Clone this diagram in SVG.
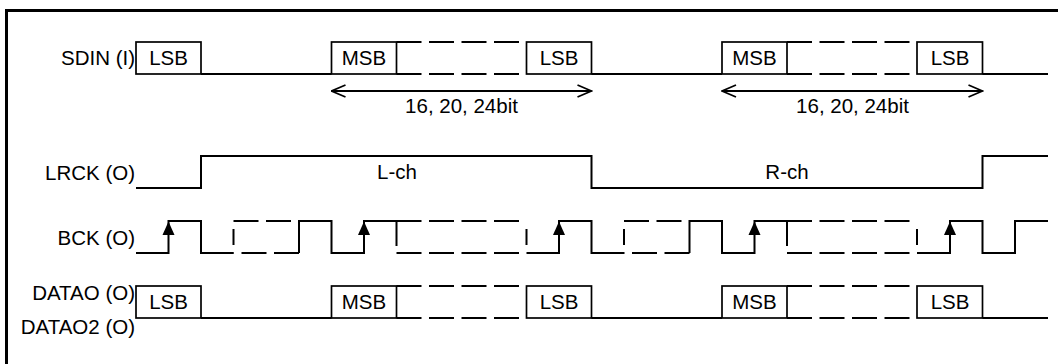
<svg xmlns="http://www.w3.org/2000/svg" width="1058" height="364" viewBox="0 0 1058 364">
<style>
text{font-family:"Liberation Sans",Arial,sans-serif;font-size:20.5px;fill:#000}
.lbl{text-anchor:end}
.mid{text-anchor:middle}
.box{fill:#fff;stroke:#000;stroke-width:1.7}
.sig{fill:none;stroke:#000;stroke-width:2}
.dash{fill:none;stroke:#000;stroke-width:2;stroke-dasharray:25 7.5}
.arr{fill:none;stroke:#000;stroke-width:1.8}
.head{fill:#000;stroke:none}
</style>
<defs>
<marker id="open" viewBox="0 0 16 14" refX="15" refY="7" markerWidth="16" markerHeight="14" markerUnits="userSpaceOnUse" orient="auto-start-reverse">
<path d="M1,1 L15,7 L1,13" fill="none" stroke="#000" stroke-width="1.8"/>
</marker>
</defs>
<rect width="1058" height="364" fill="#fff"/>
<path d="M6.5,364 V10.5 H1058" fill="none" stroke="#000" stroke-width="3"/>

<g id="labels">
<text class="lbl" x="135" y="65">SDIN (I)</text>
<text class="lbl" x="135" y="180">LRCK (O)</text>
<text class="lbl" x="135" y="245">BCK (O)</text>
<text class="lbl" x="135" y="300">DATAO (O)</text>
<text class="lbl" x="135" y="334">DATAO2 (O)</text>
</g>

<g id="sdin">
<path class="sig" d="M201,74 H331.5 M591.5,74 H722 M982.5,74 H1048"/>
<path class="dash" d="M396.5,42 H526.5 M396.5,74 H526.5 M787,42 H917 M787,74 H917"/>
<rect class="box" x="136" y="42" width="65" height="32"/>
<rect class="box" x="331.5" y="42" width="65" height="32"/>
<rect class="box" x="526.5" y="42" width="65" height="32"/>
<rect class="box" x="722" y="42" width="65" height="32"/>
<rect class="box" x="917" y="42" width="65.5" height="32"/>
<text class="mid" x="168.5" y="65">LSB</text>
<text class="mid" x="364" y="65">MSB</text>
<text class="mid" x="559" y="65">LSB</text>
<text class="mid" x="754.5" y="65">MSB</text>
<text class="mid" x="950" y="65">LSB</text>
</g>

<g id="width-arrows">
<line class="arr" x1="331.5" y1="91" x2="591.5" y2="91" marker-start="url(#open)" marker-end="url(#open)"/>
<line class="arr" x1="722" y1="91" x2="982.5" y2="91" marker-start="url(#open)" marker-end="url(#open)"/>
<text class="mid" x="461.5" y="113">16, 20, 24bit</text>
<text class="mid" x="852.5" y="113">16, 20, 24bit</text>
</g>

<g id="lrck">
<path class="sig" d="M136,188 H201 V156 H591.5 V188 H982.5 V156 H1048"/>
<text class="mid" x="397" y="179">L-ch</text>
<text class="mid" x="787" y="179">R-ch</text>
</g>

<g id="bck">
<path class="sig" d="M136,253 H168.5 V221 H201 V253 H233.5 M233.5,229 V245"/>
<path class="dash" d="M233.5,221 H299 M299,253 H233.5"/>
<path class="sig" d="M299,253 V221 H331.5 V253 H364 V221 H396.5 V246"/>
<path class="dash" d="M396.5,221 H526.5 M396.5,253 H526.5"/>
<path class="sig" d="M526.5,229 V245 M526.5,253 H559 V221 H591.5 V253 H624 M624,229 V245"/>
<path class="dash" d="M624,221 H689.5 M689.5,253 H624"/>
<path class="sig" d="M689.5,253 V221 H722 V253 H754.5 V221 H787 V246"/>
<path class="dash" d="M787,221 H917 M787,253 H917"/>
<path class="sig" d="M917,229 V245 M917,253 H950 V221 H982.5 V253 H1015 V221 H1048"/>
<path class="head" d="M168.5,221.5 L162.5,235 L174.5,235 Z"/>
<path class="head" d="M364,221.5 L358,235 L370,235 Z"/>
<path class="head" d="M559,221.5 L553,235 L565,235 Z"/>
<path class="head" d="M754.5,221.5 L748.5,235 L760.5,235 Z"/>
<path class="head" d="M950,221.5 L944,235 L956,235 Z"/>
</g>

<g id="datao">
<path class="sig" d="M201,318 H331.5 M591.5,318 H722 M982.5,318 H1048"/>
<path class="dash" d="M396.5,286 H526.5 M396.5,318 H526.5 M787,286 H917 M787,318 H917"/>
<rect class="box" x="136" y="286" width="65" height="32"/>
<rect class="box" x="331.5" y="286" width="65" height="32"/>
<rect class="box" x="526.5" y="286" width="65" height="32"/>
<rect class="box" x="722" y="286" width="65" height="32"/>
<rect class="box" x="917" y="286" width="65.5" height="32"/>
<text class="mid" x="168.5" y="309">LSB</text>
<text class="mid" x="364" y="309">MSB</text>
<text class="mid" x="559" y="309">LSB</text>
<text class="mid" x="754.5" y="309">MSB</text>
<text class="mid" x="950" y="309">LSB</text>
</g>
</svg>
